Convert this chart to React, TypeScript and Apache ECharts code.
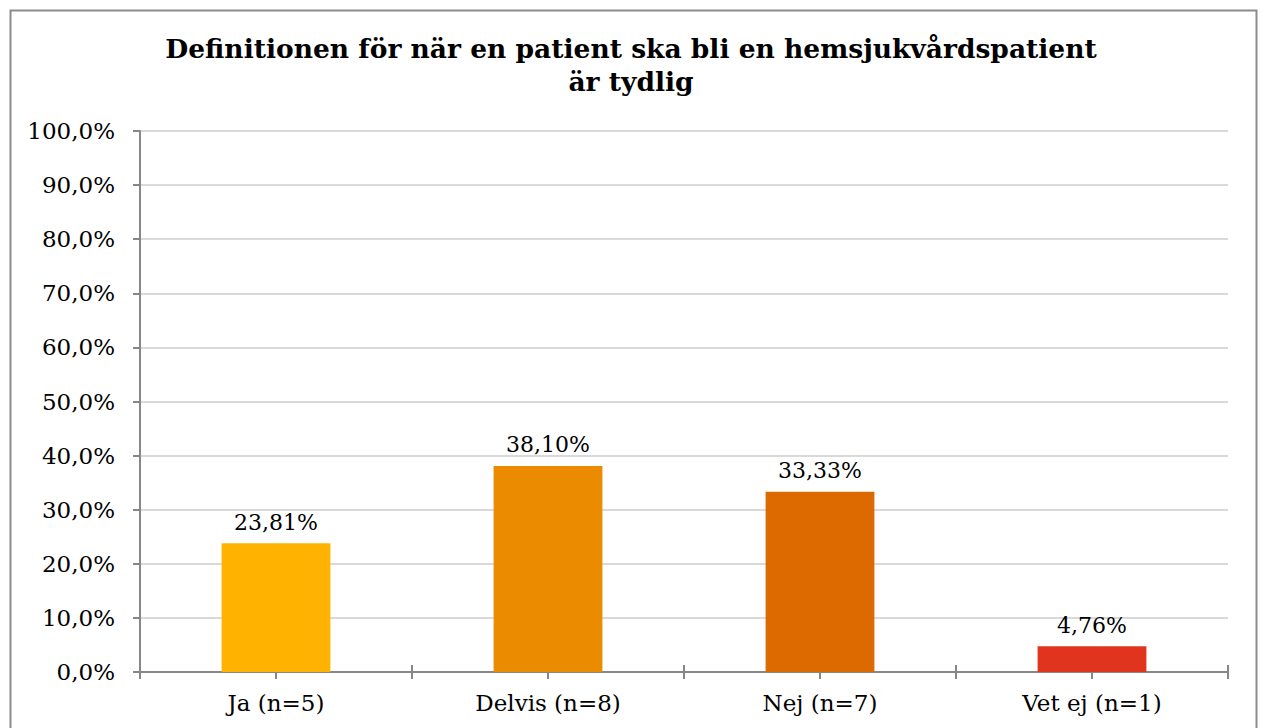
import React, { useEffect, useRef } from "react";
import * as echarts from "echarts";

const titleLines = ["Definitionen för när en patient ska bli en hemsjukvårdspatient", "är tydlig"];
const categories = ["Ja (n=5)", "Delvis (n=8)", "Nej (n=7)", "Vet ej (n=1)"];
const values = [23.81, 38.1, 33.33, 4.76];
const valueLabels = ["23,81%", "38,10%", "33,33%", "4,76%"];
const barColors = ["#FFB300", "#EB8C00", "#DC6A00", "#E0341F"];
const yMin = 0;
const yMax = 100;
const yStep = 10;

const FONT = "'DejaVu Serif', 'Liberation Serif', serif";

export default function App() {
  const ref = useRef<HTMLDivElement>(null);
  useEffect(() => {
    if (!ref.current) return;
    const chart = echarts.init(ref.current, undefined, { renderer: "svg" });
    const tickAxisBase = {
      type: "category",
      data: categories,
      position: "bottom",
      gridIndex: 0,
      offset: -7,
      axisLine: { show: false },
      axisLabel: { show: false },
      splitLine: { show: false },
    };
    chart.setOption({
      animation: false,
      backgroundColor: "#ffffff",
      title: {
        text: titleLines.join("\n"),
        left: "center",
        top: 27,
        textStyle: {
          fontFamily: FONT,
          fontWeight: "bold",
          fontSize: 26.5,
          lineHeight: 33,
          color: "#000000",
        },
      },
      graphic: [
        {
          type: "rect",
          shape: { x: 10.5, y: 10.5, width: 1246, height: 740 },
          style: { fill: "none", stroke: "#8c8c8c", lineWidth: 2 },
          silent: true,
        },
      ],
      grid: { left: 140, right: 34, top: 131, bottom: 56, containLabel: false },
      xAxis: [
        {
          type: "category",
          data: categories,
          position: "bottom",
          axisLine: { show: true, lineStyle: { color: "#878787", width: 2 } },
          axisTick: { show: false },
          axisLabel: {
            fontFamily: FONT,
            fontSize: 23,
            color: "#000000",
            margin: 19,
          },
        },
        {
          ...tickAxisBase,
          axisTick: { show: true, length: 14, alignWithLabel: false, lineStyle: { color: "#878787", width: 2 } },
        },
        {
          ...tickAxisBase,
          axisTick: { show: true, length: 14, alignWithLabel: true, lineStyle: { color: "#878787", width: 2 } },
        },
      ],
      yAxis: {
        type: "value",
        min: yMin,
        max: yMax,
        interval: yStep,
        axisLine: { show: true, lineStyle: { color: "#878787", width: 2 } },
        axisTick: { show: true, length: 7, lineStyle: { color: "#878787", width: 2 } },
        axisLabel: {
          fontFamily: FONT,
          fontSize: 23,
          color: "#000000",
          margin: 25,
          formatter: (v: number) => v.toFixed(1).replace(".", ",") + "%",
        },
        splitLine: { show: true, lineStyle: { color: "#d9d9d9", width: 2 } },
      },
      series: [
        {
          type: "bar",
          xAxisIndex: 0,
          barWidth: "40%",
          data: values.map((v, i) => ({ value: v, itemStyle: { color: barColors[i] } })),
          label: {
            show: true,
            position: "top",
            distance: 10,
            fontFamily: FONT,
            fontSize: 22,
            color: "#000000",
            formatter: (p: any) => valueLabels[p.dataIndex],
          },
        },
      ],
    });
    return () => chart.dispose();
  }, []);
  return (
    <div
      ref={ref}
      style={{ position: "fixed", left: 0, top: 0, width: 1262, height: 728 }}
    />
  );
}
